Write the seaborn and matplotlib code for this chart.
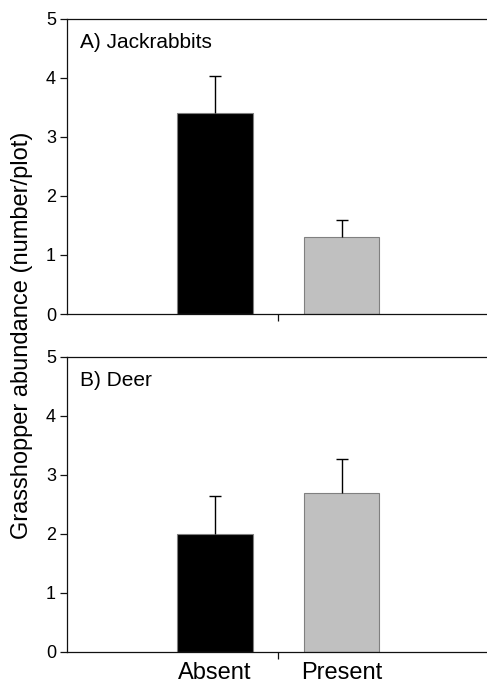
import pandas as pd
import matplotlib
matplotlib.use("Agg")
import matplotlib.pyplot as plt
import seaborn as sns

# -----------------------------
# Data
# -----------------------------
treatments = ["Absent", "Present"]
jack_means = [3.4, 1.3]
jack_se = [0.64, 0.30]
deer_means = [2.0, 2.7]
deer_se = [0.64, 0.57]
panel_titles = ["A) Jackrabbits", "B) Deer"]
bar_colors = ["#000000", "#c0c0c0"]

sns.set_style("ticks")
plt.rcParams["font.family"] = ["Liberation Sans", "DejaVu Sans"]
plt.rcParams["text.color"] = "black"
plt.rcParams["xtick.color"] = "black"
plt.rcParams["ytick.color"] = "black"

fig = plt.figure(figsize=(4.87, 6.85), dpi=100)
ax_top = fig.add_axes([0.1376, 0.5416, 0.8624, 0.4307])
ax_bot = fig.add_axes([0.1376, 0.0482, 0.8624, 0.4307])

panels = [
    (ax_top, jack_means, jack_se, panel_titles[0]),
    (ax_bot, deer_means, deer_se, panel_titles[1]),
]

for ax, means, se, title in panels:
    df = pd.DataFrame({"treatment": treatments, "mean": means, "se": se})
    sns.barplot(data=df, x="treatment", y="mean", hue="treatment",
                palette=bar_colors, width=0.6, errorbar=None,
                edgecolor="#808080", linewidth=0.8, legend=False, ax=ax)
    # upper error bars only
    eb = ax.errorbar(range(len(means)), means,
                     yerr=[[0] * len(se), se], fmt="none",
                     ecolor="black", elinewidth=1.0, capsize=4, capthick=1.0)
    eb[1][0].set_visible(False)

    ax.set_ylim(0, 5)
    ax.set_xlim(-1.17, 2.15)
    ax.set_yticks(range(0, 6))
    ax.set_xlabel("")
    ax.set_ylabel("")
    ax.text(0.03, 0.92, title, transform=ax.transAxes, fontsize=15,
            ha="left", va="center")

    for side in ["left", "top", "bottom"]:
        ax.spines[side].set_visible(True)
        ax.spines[side].set_linewidth(0.9)
        ax.spines[side].set_color("#111111")
    ax.spines["right"].set_visible(False)

    # single divider tick between the bars
    ax.set_xticks([0.5], minor=True)
    ax.tick_params(axis="x", which="minor", length=5, width=0.9,
                   direction="out", color="#111111")
    ax.tick_params(axis="x", which="major", length=0, labelsize=17, pad=7)
    ax.tick_params(axis="y", length=5, width=0.9, direction="out",
                   labelsize=13, pad=3, color="#111111")

ax_top.set_xticklabels([])

fig.text(0.045, 0.51, "Grasshopper abundance (number/plot)", rotation=90,
         fontsize=17, ha="center", va="center")

fig.savefig("out.png", dpi=100)
plt.close(fig)
